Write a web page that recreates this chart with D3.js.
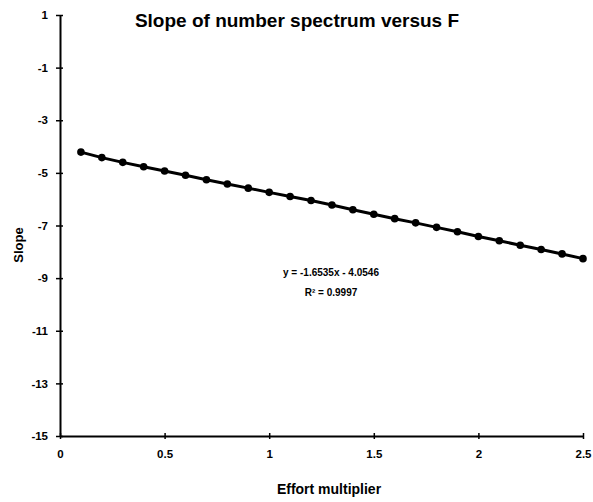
<!DOCTYPE html>
<html><head><meta charset="utf-8">
<script src="https://cdn.jsdelivr.net/npm/d3@7/dist/d3.min.js"></script>
<style>body{margin:0;background:#fff}svg{display:block}text{font-family:"Liberation Sans",Arial,sans-serif;font-weight:bold;fill:#000}</style>
</head><body><svg id="c" width="593" height="502"></svg>
<script>
const effort = [0.1,0.2,0.3,0.4,0.5,0.6,0.7,0.8,0.9,1.0,1.1,1.2,1.3,1.4,1.5,1.6,1.7,1.8,1.9,2.0,2.1,2.2,2.3,2.4,2.5];
const slope = [-4.21,-4.42,-4.60,-4.77,-4.93,-5.09,-5.26,-5.42,-5.58,-5.74,-5.90,-6.05,-6.22,-6.40,-6.57,-6.74,-6.90,-7.07,-7.24,-7.42,-7.58,-7.75,-7.91,-8.08,-8.26];
const xTicks = [0,0.5,1,1.5,2,2.5];
const yTicks = [1,-1,-3,-5,-7,-9,-11,-13,-15];
const title = "Slope of number spectrum versus F";
const xTitle = "Effort multiplier";
const yTitle = "Slope";
const eqLines = ["y = -1.6535x - 4.0546","R\u00b2 = 0.9997"];

const svg = d3.select("#c");
const x = d3.scaleLinear().domain([0,2.5]).range([60,583]);
const y = d3.scaleLinear().domain([-15,1]).range([436,15]);

const xa = svg.append("g").attr("transform","translate(0,436)")
  .call(d3.axisBottom(x).tickValues(xTicks).tickFormat(d=>String(d)).tickSizeInner(4).tickSizeOuter(0).tickPadding(10));
xa.selectAll(".tick line").attr("y1",-3).attr("y2",3);
const ya = svg.append("g").attr("transform","translate(60,0)")
  .call(d3.axisLeft(y).tickValues(yTicks).tickFormat(d=>String(d)).tickSizeInner(4).tickSizeOuter(0).tickPadding(8));
ya.selectAll(".tick line").attr("x1",-4).attr("x2",3);
svg.selectAll(".domain").attr("stroke","#000").attr("stroke-width",2);
svg.selectAll(".tick line").attr("stroke","#000").attr("stroke-width",1.5);
svg.selectAll(".tick text").style("font-size","11.5px").style("font-weight","bold").attr("fill","#000");

const pts = effort.map((e,i)=>[e,slope[i]]);
svg.append("path").datum(pts).attr("fill","none").attr("stroke","#000").attr("stroke-width",3)
  .attr("d",d3.line().x(d=>x(d[0])).y(d=>y(d[1])));
svg.selectAll("circle.p").data(pts).enter().append("circle").attr("class","p")
  .attr("cx",d=>x(d[0])).attr("cy",d=>y(d[1])).attr("r",3.8).attr("fill","#000");

svg.append("text").attr("x",297).attr("y",27).attr("text-anchor","middle").style("font-size","19px").text(title);
svg.append("text").attr("x",329).attr("y",494).attr("text-anchor","middle").style("font-size","14px").text(xTitle);
svg.append("text").attr("transform","translate(23,245) rotate(-90)").attr("text-anchor","middle").style("font-size","13px").text(yTitle);
svg.selectAll("text.eq").data(eqLines).enter().append("text").attr("class","eq")
  .attr("x",331).attr("y",(d,i)=>276+i*20).attr("text-anchor","middle").style("font-size","10px").text(d=>d);
</script></body></html>
